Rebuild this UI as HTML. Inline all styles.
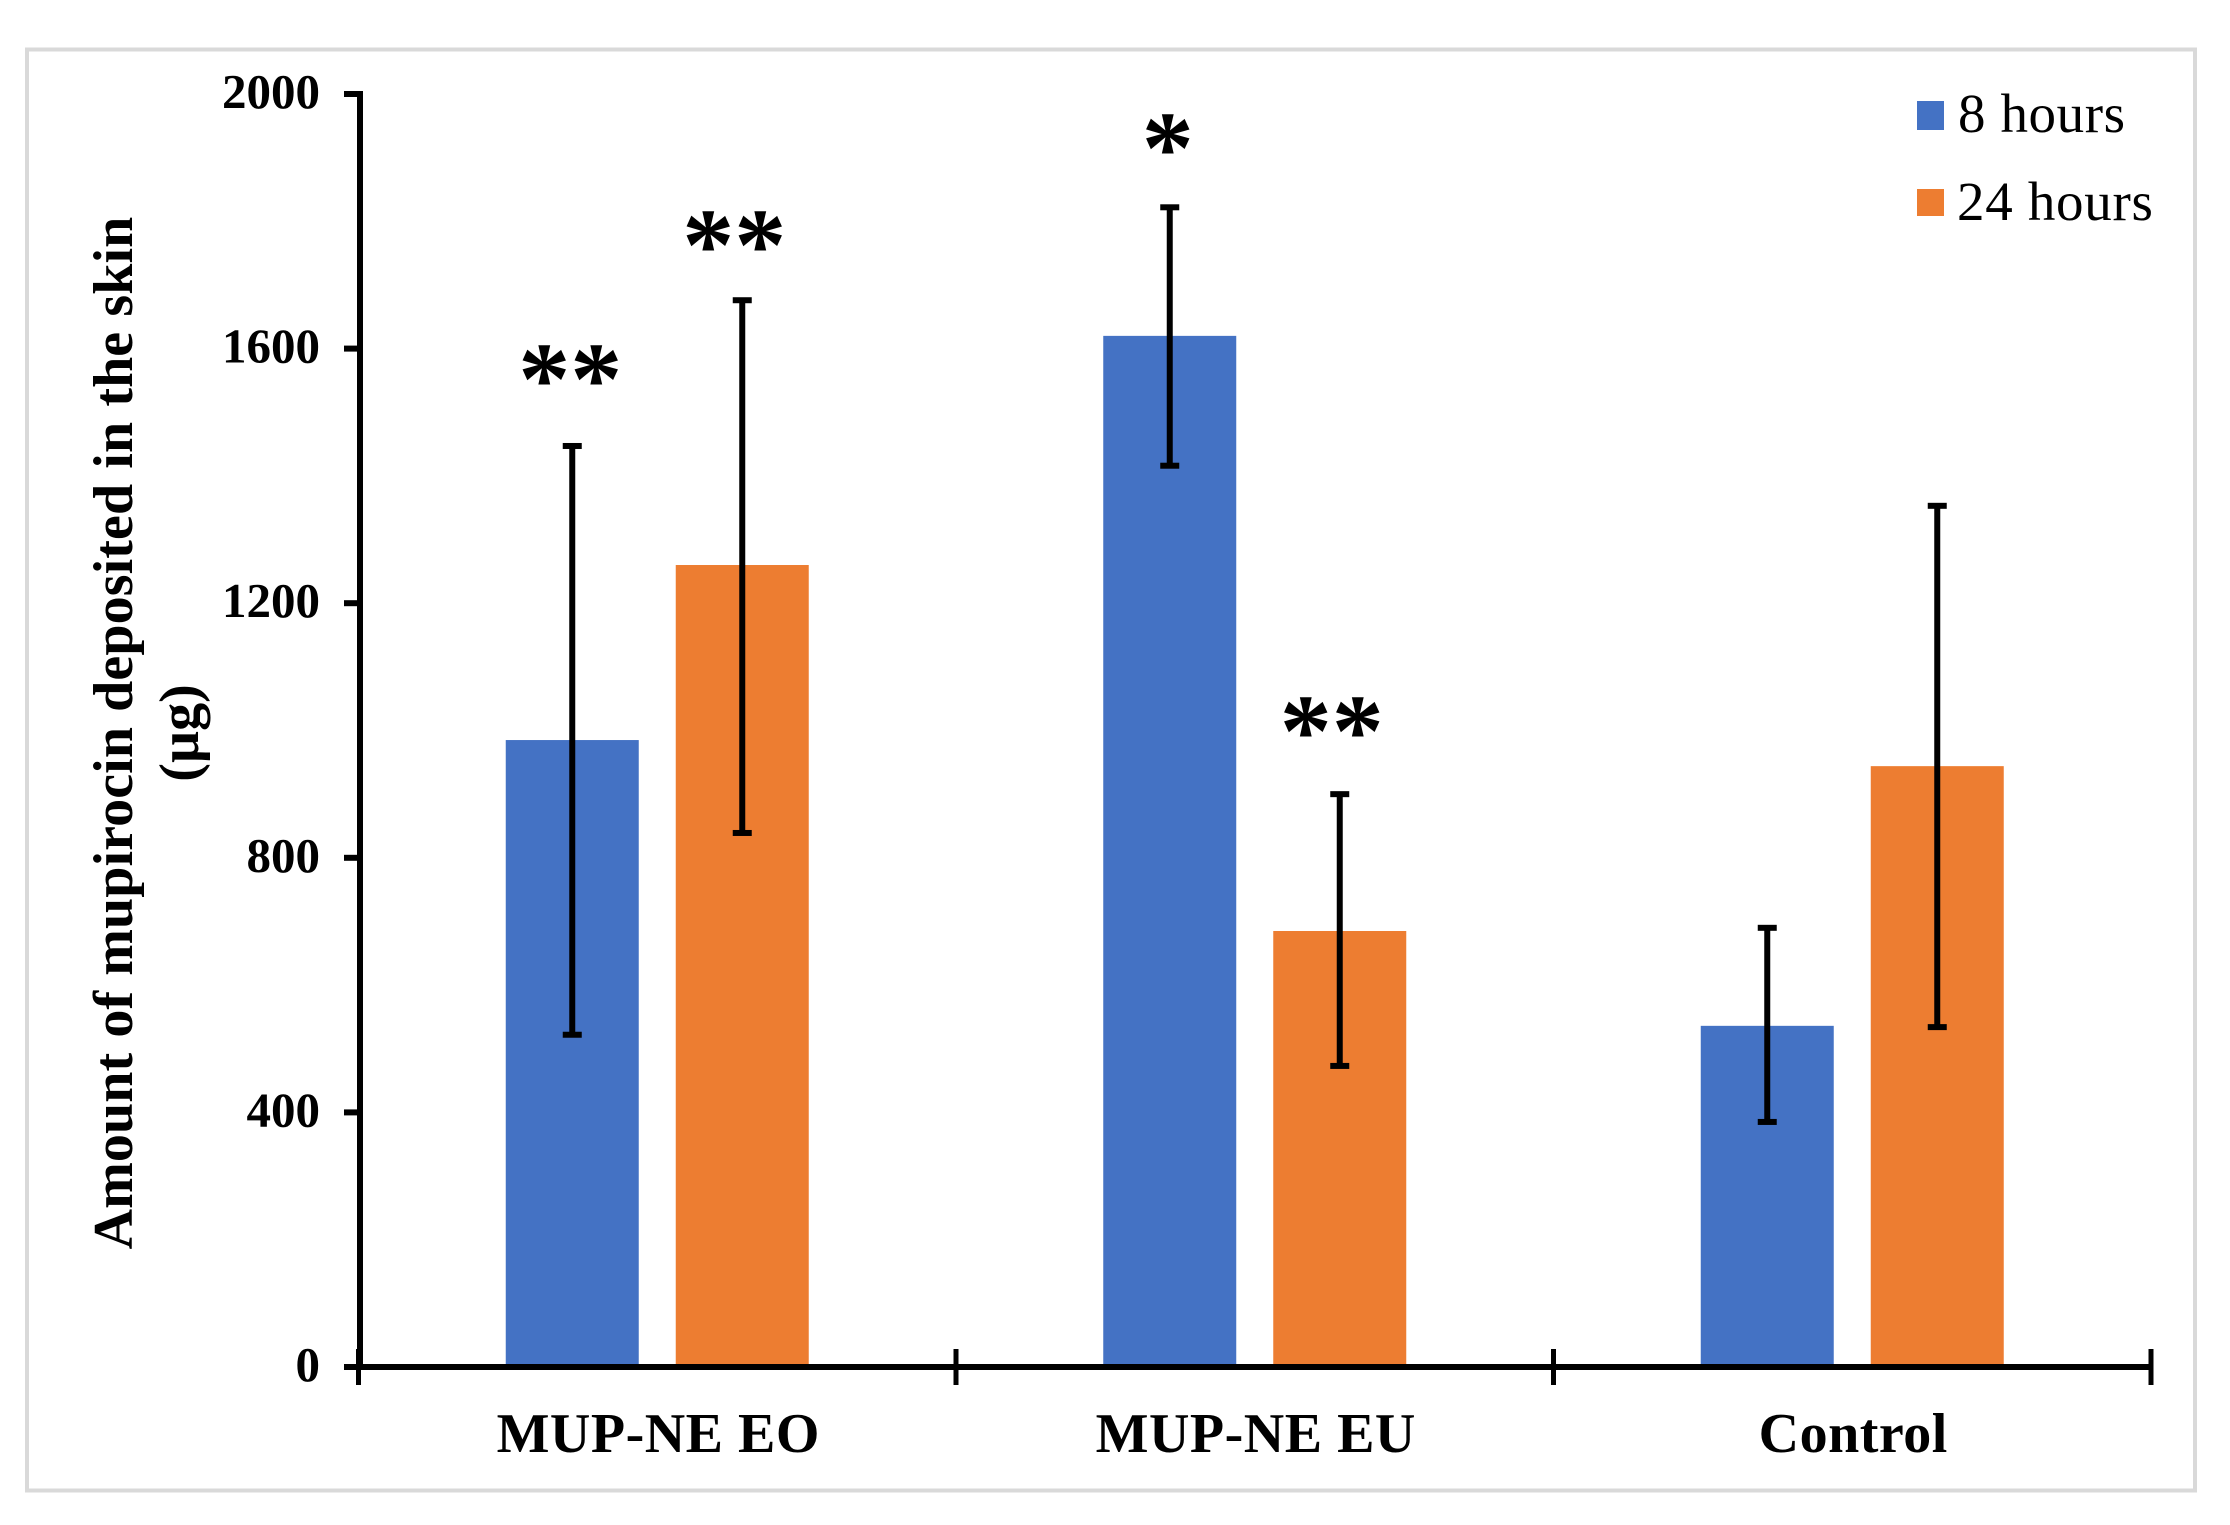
<!DOCTYPE html>
<html lang="en">
<head>
<meta charset="utf-8">
<title>Amount of mupirocin deposited in the skin</title>
<style>
html,body{margin:0;padding:0;background:#fff;width:2230px;height:1525px;overflow:hidden}
svg{display:block}
text{font-family:"Liberation Serif","Times New Roman",serif;fill:#000}
.bold{font-weight:bold}
</style>
</head>
<body>
<svg id="chart" width="2230" height="1525" viewBox="0 0 2230 1525" xmlns="http://www.w3.org/2000/svg">
  <rect x="0" y="0" width="2230" height="1525" fill="#ffffff"/>
  <rect x="27" y="49.5" width="2168" height="1441" fill="#ffffff" stroke="#d9d9d9" stroke-width="4"/>
  <g id="bars"></g>
  <g id="errors"></g>
  <g id="axes"></g>
  <g id="sig"></g>
  <text class="bold" font-size="56" text-anchor="middle" letter-spacing="0.1" word-spacing="1" transform="translate(132 733) rotate(-90)">Amount of mupirocin deposited in the skin</text>
  <text class="bold" font-size="56" text-anchor="middle" transform="translate(198 733) rotate(-90)">(µg)</text>
  <g>
    <rect x="1917" y="101" width="27" height="29" fill="#4472c4"/>
    <text x="1958" y="132" font-size="55" letter-spacing="0.6">8 hours</text>
    <rect x="1917" y="189" width="27" height="27" fill="#ed7d31"/>
    <text x="1957" y="220" font-size="55" letter-spacing="0.7">24 hours</text>
  </g>
</svg>
<script>
const categories = ['MUP-NE EO', 'MUP-NE EU', 'Control'];
const hours8 = [985, 1620, 536];
const hours24 = [1260, 685, 944];
const hours8ErrLow = [522, 1416, 385];
const hours8ErrHigh = [1447, 1822, 690];
const hours24ErrLow = [839, 473, 534];
const hours24ErrHigh = [1676, 900, 1353];
const sig8 = ['**', '*', ''];
const sig24 = ['**', '**', ''];
const sigGap8 = [50, 38, 0];
const sigGap24 = [32, 44, 0];
const yTicks = [0, 400, 800, 1200, 1600, 2000];

const NS = 'http://www.w3.org/2000/svg';
const plotLeft = 358.5, plotRight = 2151, yZero = 1367, yTop = 94, yMax = 2000;
const barWidth = 133, barOffset = 85;
const yScale = v => yZero - v * (yZero - yTop) / yMax;
const bandWidth = (plotRight - plotLeft) / categories.length;
const xBand = i => plotLeft + bandWidth * i;
const xCenter = i => xBand(i) + bandWidth / 2;

function make(parent, tag, props) {
  const el = document.createElementNS(NS, tag);
  for (const k in props) el.setAttribute(k, props[k]);
  parent.appendChild(el);
  return el;
}
const barsG = document.getElementById('bars');
const errG = document.getElementById('errors');
const axesG = document.getElementById('axes');
const sigG = document.getElementById('sig');

function drawBar(cx, v, fill) {
  const el = make(barsG, 'rect', {x: cx - barWidth / 2, y: yScale(v), width: barWidth, height: yZero - yScale(v), fill: fill});
  
  
}
function drawError(cx, lo, hi) {
  const line = make(errG, 'rect', {x: cx - 3, y: yScale(hi), width: 6, height: yScale(lo) - yScale(hi), fill: '#000'});
  
  
  const capHi = make(errG, 'rect', {x: cx - 9.5, y: yScale(hi) - 3, width: 19, height: 6, fill: '#000'});
  
  
  const capLo = make(errG, 'rect', {x: cx - 9.5, y: yScale(lo) - 3, width: 19, height: 6, fill: '#000'});
  
  
}
function drawSig(cx, label, level) {
  if (!label) return;
  const t = make(sigG, 'text', {x: cx, y: yScale(level), 'font-size': 104, 'text-anchor': 'middle', 'font-weight': 'bold'});
  t.textContent = label;
  
  
}

categories.forEach((name, i) => {
  const c8 = xCenter(i) - barOffset, c24 = xCenter(i) + barOffset;
  drawBar(c8, hours8[i], '#4472c4');
  drawBar(c24, hours24[i], '#ed7d31');
  drawError(c8, hours8ErrLow[i], hours8ErrHigh[i]);
  drawError(c24, hours24ErrLow[i], hours24ErrHigh[i]);
  drawSig(c8 - 2, sig8[i], hours8ErrHigh[i] + sigGap8[i]);
  drawSig(c24 - 8, sig24[i], hours24ErrHigh[i] + sigGap24[i]);
  const lab = make(axesG, 'text', {x: xCenter(i) + 1, y: 1452, 'font-size': 56, 'font-weight': 'bold', 'text-anchor': 'middle', 'letter-spacing': 0.5});
  lab.textContent = name;
  
  
});

const yAxis = make(axesG, 'rect', {x: 357, y: yTop - 3, width: 6, height: yZero - yTop + 6, fill: '#000'});


const xAxis = make(axesG, 'rect', {x: 344, y: yZero - 3, width: plotRight - 344 + 2, height: 6, fill: '#000'});



yTicks.forEach(v => {
  const tick = make(axesG, 'rect', {x: 344, y: yScale(v) - 3, width: 16, height: 6, fill: '#000'});
  
  
  const lab = make(axesG, 'text', {x: 320, y: yScale(v) + 14, 'font-size': 49, 'font-weight': 'bold', 'text-anchor': 'end'});
  lab.textContent = String(v);
  
  
});
for (let i = 0; i <= categories.length; i++) {
  const tick = make(axesG, 'rect', {x: xBand(i) - 2.5, y: 1349, width: 5, height: 36, fill: '#000'});
  
  
}
</script>
</body>
</html>
